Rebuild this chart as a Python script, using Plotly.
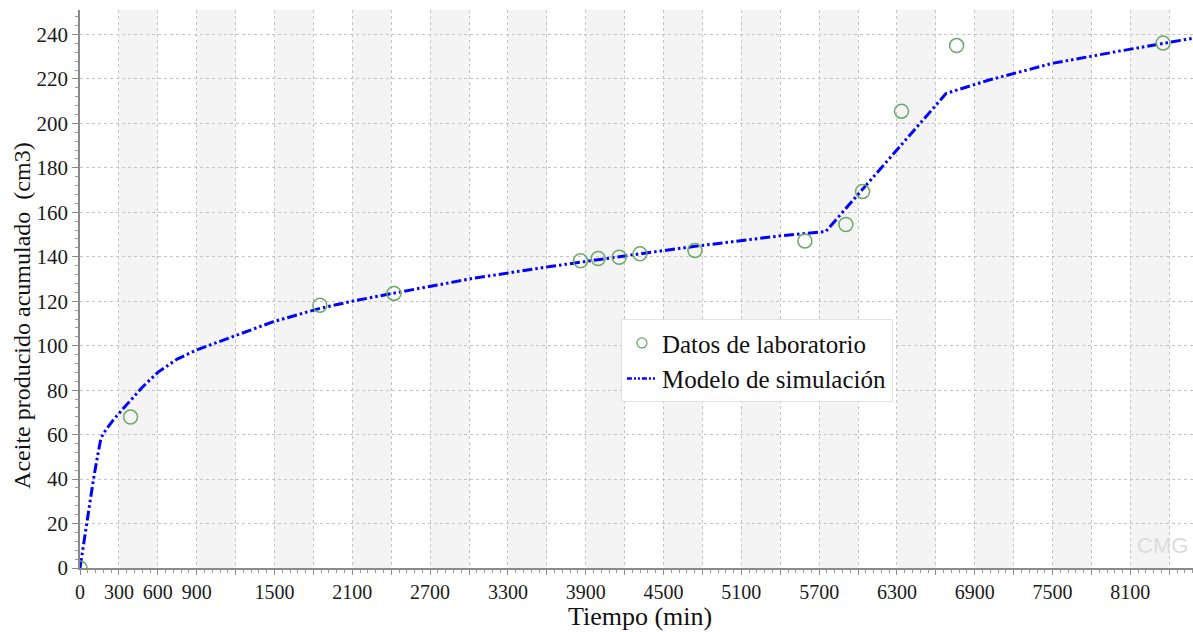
import plotly.graph_objects as go

# Laboratory measurements: time (min) and cumulative oil (cm3)
lab_time = [0, 390, 1850, 2421, 3860, 3996, 4158, 4318, 4742, 5590, 5906, 6035, 6335, 6760, 8352]
lab_oil = [0, 67.9, 118.2, 123.5, 138.2, 139.2, 139.8, 141.3, 142.8, 147.1, 154.5, 169.4, 205.5, 235.0, 236.1]

# Simulation model output
sim_time = [0, 25, 51, 78, 103, 125, 141, 160, 180, 220, 257, 300, 360, 475, 600, 750, 900,
            1208, 1491, 1850, 2100, 2416, 3032, 3624, 4009, 4215, 4729, 5397, 5750, 6040,
            6680, 7016, 7505, 8044, 8583]
sim_oil = [0, 10, 20, 30, 39.6, 47, 53, 58, 60.6, 64, 66.6, 69.5, 73.3, 81.0, 88, 94, 98.1,
           104.8, 110.8, 116.8, 120.0, 123.6, 130.3, 135.6, 138.9, 140.5, 144.6, 149.4, 151.3, 170.7,
           213.5, 219.6, 227.1, 232.8, 238.3]

x_max = 8583
y_max = 251
x_step = 300
y_step = 20

serif = "Liberation Serif, Times New Roman, serif"
green = "#6aa865"
blue = "#0000ff"
dash = "10px,3px,2.5px,3px,2.5px,3px"

fig = go.Figure()

fig.add_trace(go.Scatter(
    x=sim_time, y=sim_oil, mode="lines", showlegend=False,
    line=dict(color=blue, width=3, dash=dash), cliponaxis=True,
))
fig.add_trace(go.Scatter(
    x=lab_time, y=lab_oil, mode="markers", showlegend=False,
    marker=dict(symbol="circle-open", size=14, color=green, line=dict(width=1.5, color=green)),
    cliponaxis=True,
))

# legend entries
fig.add_trace(go.Scatter(
    x=[None], y=[None], mode="markers", name="Datos de laboratorio",
    marker=dict(symbol="circle-open", size=10, color=green, line=dict(width=1.3, color=green)),
))
fig.add_trace(go.Scatter(
    x=[None], y=[None], mode="lines", name="Modelo de simulación",
    line=dict(color=blue, width=2.5, dash="5px,2px,2px,2px,2px,2px"),
))

# alternating background bands between vertical grid lines
shapes = []
start = x_step
while start < x_max:
    shapes.append(dict(type="rect", xref="x", yref="paper", x0=start, x1=min(start + x_step, x_max),
                       y0=0, y1=1, fillcolor="#f4f4f4", line=dict(width=0), layer="below"))
    start += 2 * x_step

# x tick labels: every 300 up to 900, then every 600 starting at 1500
tick_vals = list(range(0, 8401, x_step))
tick_text = [str(v) if (v <= 900 or (v - 300) % 600 == 0) else "" for v in tick_vals]

fig.update_layout(
    width=1193, height=632,
    margin=dict(l=80, r=0, t=10, b=64),
    plot_bgcolor="white", paper_bgcolor="white",
    font=dict(family=serif, color="#1a1a1a"),
    shapes=shapes,
    showlegend=True,
    legend=dict(
        x=0.486, y=0.446, xanchor="left", yanchor="top",
        bgcolor="white", bordercolor="#e2e2e2", borderwidth=1,
        font=dict(family=serif, size=25, color="#111"),
        tracegroupgap=0, itemwidth=30,
    ),
    xaxis=dict(
        range=[0, x_max], tickmode="array", tickvals=tick_vals, ticktext=tick_text,
        showgrid=True, gridcolor="#c4c4c4", griddash="dot", gridwidth=1,
        showline=True, linecolor="#8a8a8a", linewidth=1.5,
        ticks="outside", ticklen=5, tickcolor="#8a8a8a",
        minor=dict(dtick=60, ticks="outside", ticklen=3, tickcolor="#9a9a9a", showgrid=False),
        tickfont=dict(family=serif, size=20, color="#1a1a1a"),
        zeroline=False,
    ),
    yaxis=dict(
        range=[0, y_max], dtick=y_step, tick0=0,
        showgrid=True, gridcolor="#c4c4c4", griddash="dot", gridwidth=1,
        showline=True, linecolor="#8a8a8a", linewidth=1.5,
        ticks="outside", ticklen=6, tickcolor="#8a8a8a",
        minor=dict(dtick=4, ticks="outside", ticklen=3, tickcolor="#9a9a9a", showgrid=False),
        tickfont=dict(family=serif, size=21, color="#1a1a1a"),
        zeroline=False,
    ),
    annotations=[
        dict(text="Tiempo (min)", xref="paper", yref="paper", x=0.503, y=-0.087,
             xanchor="center", yanchor="middle", showarrow=False,
             font=dict(family=serif, size=26, color="#111")),
        dict(text="Aceite producido acumulado  (cm3)", xref="paper", yref="paper",
             x=-0.052, y=0.452, xanchor="center", yanchor="middle", textangle=-90,
             showarrow=False, font=dict(family=serif, size=24, color="#111")),
        dict(text="CMG", xref="paper", yref="paper", x=0.997, y=0.04,
             xanchor="right", yanchor="middle", showarrow=False,
             font=dict(family="Liberation Sans Narrow, Liberation Sans, sans-serif", size=22, color="#dcdcdc")),
    ],
)

fig.write_html("out.html")
